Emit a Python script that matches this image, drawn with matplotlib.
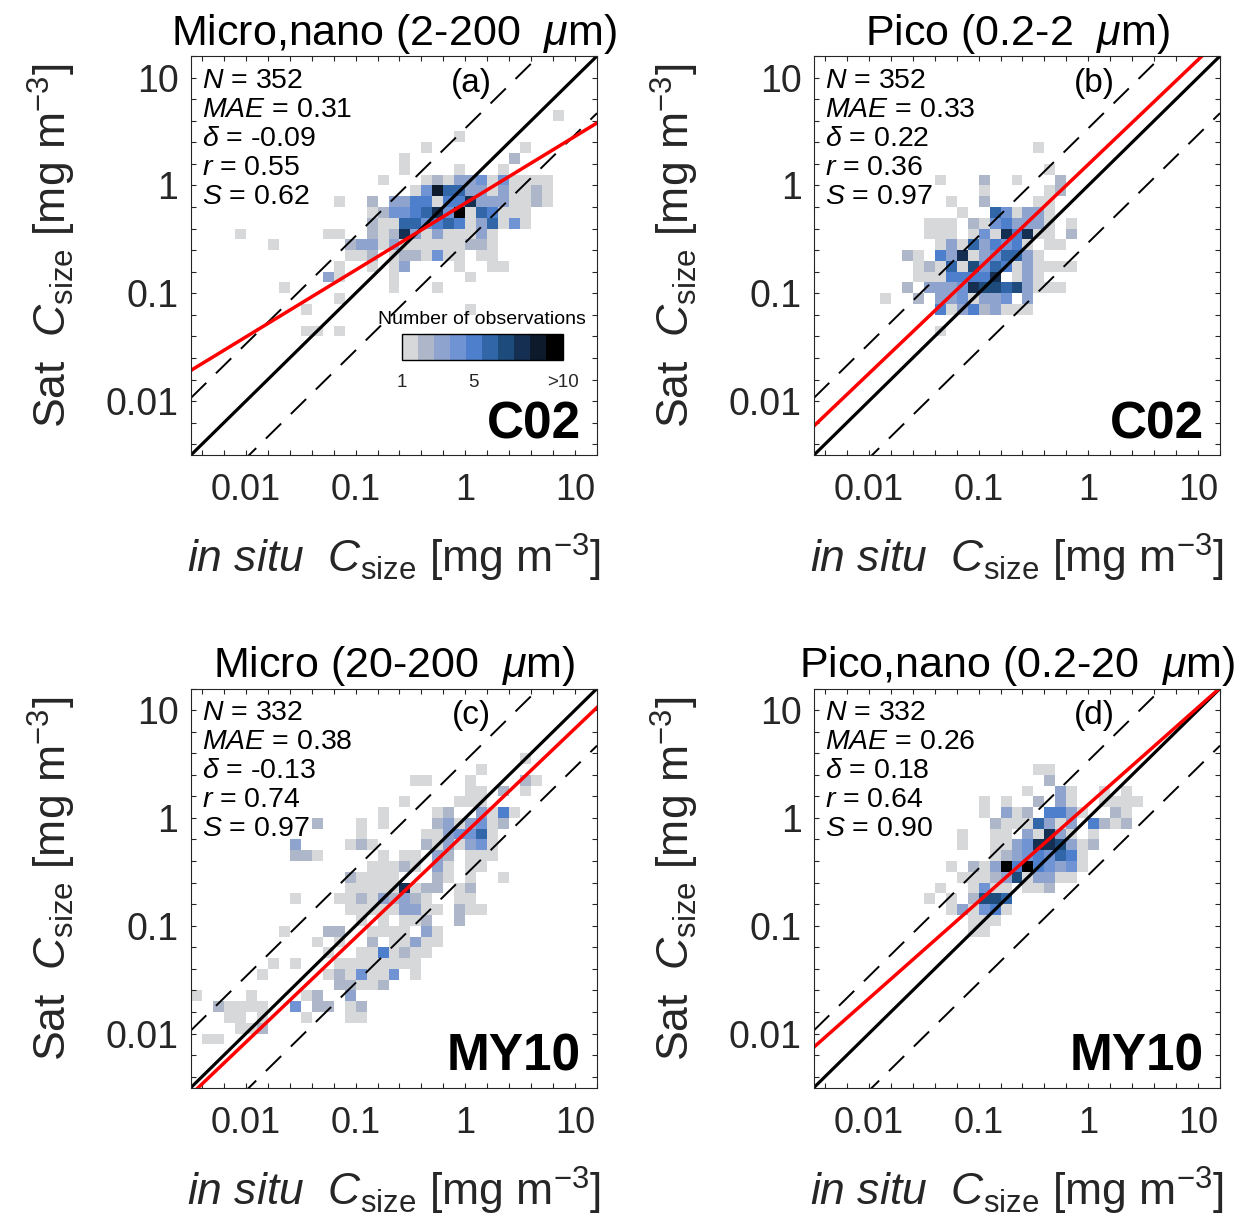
import numpy as np
import matplotlib.pyplot as plt
from matplotlib.colors import ListedColormap, Normalize
from matplotlib.cm import ScalarMappable
from matplotlib.ticker import FixedLocator, NullFormatter

plt.rcParams['font.family'] = ['Liberation Sans', 'DejaVu Sans']
plt.rcParams['mathtext.fontset'] = 'custom'
plt.rcParams['mathtext.rm'] = 'Liberation Sans'
plt.rcParams['mathtext.it'] = 'Liberation Sans:italic'
plt.rcParams['mathtext.bf'] = 'Liberation Sans:bold'

# panel info
titles = ['Micro,nano (2-200  $\\mu$m)', 'Pico (0.2-2  $\\mu$m)',
          'Micro (20-200  $\\mu$m)', 'Pico,nano (0.2-20  $\\mu$m)']
panel_tags = ['(a)', '(b)', '(c)', '(d)']
models = ['C02', 'C02', 'MY10', 'MY10']
n_obs = [352, 352, 332, 332]
mae = [0.31, 0.33, 0.38, 0.26]
bias = [-0.09, 0.22, -0.13, 0.18]
r_vals = [0.55, 0.36, 0.74, 0.64]
slopes = [0.62, 0.97, 0.97, 0.90]
intercepts = [-0.165, 0.195, -0.14, 0.125]   # log10 space

# log10 bin edges (0.1 decade bins), same for x and y
log_edges = np.linspace(-2.5, 1.2, 38)
n_bins = len(log_edges) - 1

# cells: (row counted from the top, first column, counts along x)
# '.' = empty, 'X' = 10 or more
cells_a = [
    (5, 33, "1"), (7, 24, "1"), (8, 21, "1"), (8, 30, "1"),
    (9, 19, "1"), (9, 29, "2"),
    (10, 19, "1"), (10, 24, "1"), (10, 28, "1"),
    (11, 17, "1"), (11, 21, "121334141111"),
    (12, 20, "1496633131121"),
    (13, 13, "1..2.335515583331121"),
    (14, 16, "12445684X165111"),
    (15, 16, "211664565136141"),
    (16, 4, "1"), (16, 12, "11..212831311131"),
    (17, 7, "1"), (17, 14, "23313111111221"),
    (18, 14, "112.1221411.11"),
    (19, 13, "1..1.13....1..11"),
    (20, 12, "31"), (20, 18, "1"), (20, 25, "1"),
    (21, 8, "1"), (21, 18, "1"), (21, 22, "1"),
    (22, 13, "1"), (23, 10, "1"), (23, 25, "1"),
    (25, 10, "11.1"),
]
cells_b = [
    (8, 20, "1"), (10, 21, "1"),
    (11, 11, "1"), (11, 15, "2"), (11, 18, "1"), (11, 22, "2"),
    (12, 15, "1"), (12, 21, "12"),
    (13, 12, "1"), (13, 15, "2"), (13, 20, "11"),
    (14, 13, "1..641331"),
    (15, 10, "111.21453331.1"),
    (16, 10, "111.14185811.2"),
    (17, 11, "131635451.11"),
    (18, 8, "21.5381346631"),
    (19, 9, "121617465131111"),
    (20, 9, "11155558.131"),
    (21, 8, "2.3334877673111"),
    (22, 6, "1"), (22, 9, "2.3341334.3"),
    (23, 11, "513523111"),
    (25, 11, "1"),
]
cells_c = [
    (6, 30, "1"), (7, 26, "1"),
    (8, 20, "11"), (8, 25, "1"), (8, 30, "21"),
    (9, 25, "11"), (9, 28, "2"), (9, 30, "1"),
    (10, 19, "1"), (10, 24, "111"),
    (11, 17, "1"), (11, 22, "12..3151"),
    (12, 11, "2...1.1....2313412"),
    (13, 15, "1.....1134461"),
    (14, 9, "3....121....2131341"),
    (15, 9, "221.....1.11.32.111"),
    (16, 16, "11121.31.11"),
    (17, 14, "21111...21.1..1"),
    (18, 14, "111118122.12"),
    (19, 9, "1"), (19, 13, "112132321..11"),
    (20, 14, "111113311.211"),
    (21, 15, "1.1.112..2"),
    (22, 8, "1...22..1111.31"),
    (23, 11, "1.1..2.11311"),
    (24, 12, "1..1151211"),
    (25, 7, "1.1...11111111"),
    (26, 6, "1"), (26, 12, "1214114.1"),
    (27, 13, "22112"),
    (28, 0, "1....1....12..3"),
    (29, 2, "21111..4.22.12"),
    (30, 3, "11.1...1...11"),
    (31, 4, "112"),
    (32, 1, "11"),
]
cells_d = [
    (7, 20, "11"), (8, 21, "2"),
    (9, 19, "1"), (9, 22, "31"), (9, 26, "1"), (9, 28, "1"),
    (10, 15, "1"), (10, 17, "1"), (10, 20, "2.31"), (10, 26, "1111"),
    (11, 15, "1"), (11, 17, "312.5531..21"),
    (12, 16, "21116313.5212"),
    (13, 13, "1"), (13, 16, "11.31831.1"),
    (14, 13, "1"), (14, 16, "1134887312"),
    (15, 16, "123454651"),
    (16, 12, "1.213X5X54341"),
    (17, 13, "11123713311"),
    (18, 11, "1"), (18, 14, "1411.112"),
    (19, 10, "1"), (19, 12, "1.2776"),
    (20, 12, "131451"),
    (21, 14, "111"), (22, 14, "11"),
]
all_cells = [cells_a, cells_b, cells_c, cells_d]

colors = ['#d7d8da', '#adb7c9', '#8fa3cf', '#6f93d3', '#4d7fcd',
          '#3166a8', '#1d4c7c', '#142f52', '#0c1a2b', '#000000']
cmap = ListedColormap(colors)
norm = Normalize(vmin=1, vmax=10)

dash_off = 0.53


def count_grid(cells):
    grid = np.zeros((n_bins, n_bins))
    for row, col, counts in cells:
        for k, ch in enumerate(counts):
            if ch == '.':
                continue
            grid[n_bins - 1 - row, col + k] = 10 if ch == 'X' else int(ch)
    return np.ma.masked_equal(grid, 0)


W, H = 1235, 1225
fig = plt.figure(figsize=(W / 100, H / 100), dpi=100)
boxes = [(191, 56), (814, 56), (191, 688.5), (814, 688.5)]
aw, ah = 406, 399
tc = '#262626'

edges = 10 ** log_edges
lo, hi = 10 ** log_edges[0], 10 ** log_edges[-1]
xx = np.array([lo, hi])

for i, (l, t) in enumerate(boxes):
    ax = fig.add_axes([l / W, 1 - (t + ah) / H, aw / W, ah / H])
    ax.pcolormesh(edges, edges, count_grid(all_cells[i]), cmap=cmap,
                  norm=norm, shading='flat', linewidth=0, antialiased=False)

    ax.plot(xx, xx * 10 ** dash_off, color='k', lw=1.4, dashes=(11, 7))
    ax.plot(xx, xx / 10 ** dash_off, color='k', lw=1.4, dashes=(11, 7))
    ax.plot(xx, xx, color='k', lw=2.3)
    ax.plot(xx, 10 ** intercepts[i] * xx ** slopes[i], color='#ff0000', lw=2.5)

    ax.set_xscale('log')
    ax.set_yscale('log')
    ax.set_xlim(lo, hi)
    ax.set_ylim(lo, hi)
    major = [0.01, 0.1, 1, 10]
    minor = [10 ** v for v in np.round(np.arange(-2.4, 1.21, 0.2), 1)
             if abs(v - round(v)) > 1e-6]
    for axis in (ax.xaxis, ax.yaxis):
        axis.set_major_locator(FixedLocator(major))
        axis.set_minor_locator(FixedLocator(minor))
        axis.set_minor_formatter(NullFormatter())
    ax.set_xticklabels(['0.01', '0.1', '1', '10'])
    ax.set_yticklabels(['0.01', '0.1', '1', '10'])
    ax.tick_params(which='both', direction='in', top=True, right=True,
                   length=3.6, width=0.8, color=tc)
    ax.tick_params(axis='x', labelsize=26, labelcolor=tc, pad=13)
    ax.tick_params(axis='y', labelsize=27, labelcolor=tc, pad=9)
    for sp in ax.spines.values():
        sp.set_linewidth(0.8)
        sp.set_color(tc)

    ax.set_title(titles[i], fontsize=31, pad=6)
    ax.set_xlabel('$\\mathit{in\\ situ}$  $C_{\\mathrm{size}}$ [mg m$^{-3}$]',
                  fontsize=32, color=tc)
    ax.set_ylabel('Sat  $C_{\\mathrm{size}}$ [mg m$^{-3}$]', fontsize=32, color=tc)
    ax.xaxis.set_label_coords(0.5, -0.193)
    ax.yaxis.set_label_coords(-0.279, 0.524)

    stats = [f'$N$ = {n_obs[i]}', f'$MAE$ = {mae[i]:.2f}',
             f'$\\delta$ = {bias[i]:.2f}', f'$r$ = {r_vals[i]:.2f}',
             f'$S$ = {slopes[i]:.2f}']
    for k, s in enumerate(stats):
        ax.text(0.027, 0.9206 - 0.0727 * k, s, transform=ax.transAxes,
                fontsize=20.5, va='baseline', ha='left')
    ax.text(0.6916, 0.9105, panel_tags[i], transform=ax.transAxes,
            fontsize=24, va='baseline', ha='center')
    ax.text(0.96, 0.042, models[i], transform=ax.transAxes, fontsize=37,
            fontweight='bold', va='baseline', ha='right')

    if i == 0:
        cax = ax.inset_axes([0.5185, 0.238, 0.3966, 0.0644])
        cb = fig.colorbar(ScalarMappable(norm=norm, cmap=cmap), cax=cax,
                          orientation='horizontal', ticks=[1, 5, 10])
        cb.ax.set_xticklabels(['1', '5', '>10'])
        cb.ax.tick_params(length=0, labelsize=13.5, pad=10, labelcolor=tc)
        cb.outline.set_linewidth(1.0)
        cax.text(0.5, 1.39, 'Number of observations', transform=cax.transAxes,
                 ha='center', va='baseline', fontsize=14)

fig.savefig('out.png', dpi=100)
